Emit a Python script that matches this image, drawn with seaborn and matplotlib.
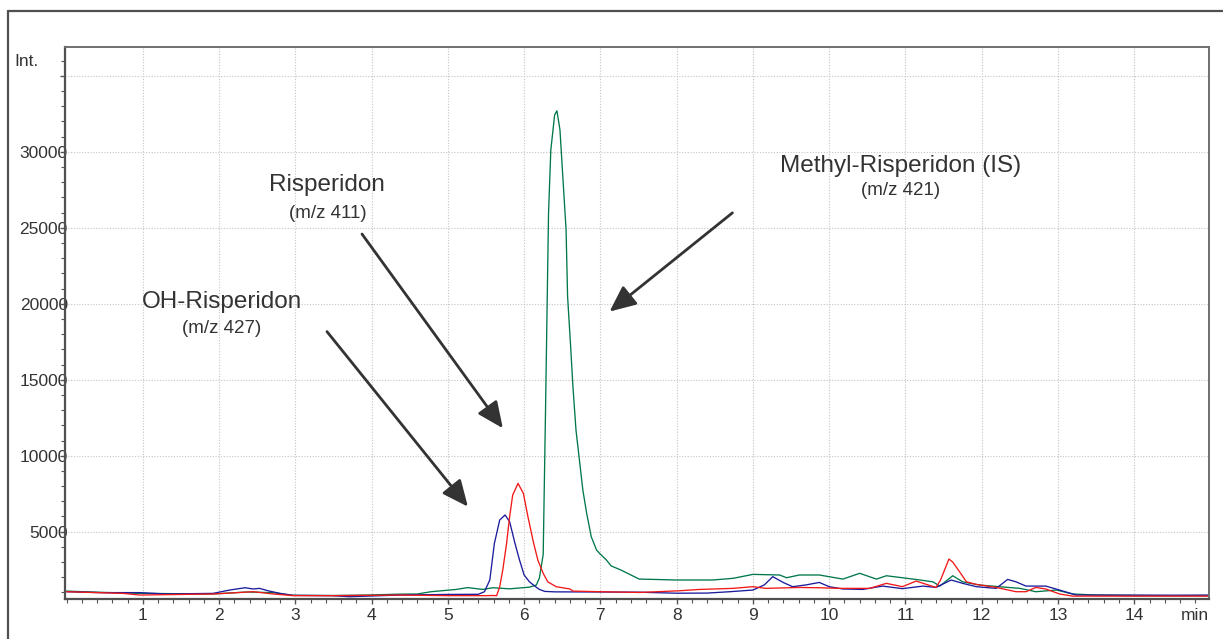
import numpy as np
import pandas as pd
import matplotlib
matplotlib.use("Agg")
import matplotlib.pyplot as plt
from matplotlib.lines import Line2D
from matplotlib.ticker import MultipleLocator, FixedLocator
import seaborn as sns

# ---------------- data ----------------
t_oh = [0.0, 0.44, 0.96, 1.31, 1.92, 2.14, 2.34, 2.45, 2.53, 2.66, 2.80, 2.97, 3.49, 3.71,
        4.37, 5.0, 5.40, 5.48, 5.55, 5.61, 5.68, 5.75, 5.81, 5.88, 5.94, 6.00, 6.07, 6.14,
        6.20, 6.27, 6.40, 7.0, 7.5, 8.0, 8.4, 8.7, 9.0, 9.15, 9.26, 9.40, 9.52, 9.70, 9.87,
        10.0, 10.18, 10.44, 10.70, 10.96, 11.23, 11.40, 11.60, 11.75, 11.93, 12.19, 12.34,
        12.45, 12.58, 12.84, 13.02, 13.24, 13.6, 14.0, 14.5, 14.98]
i_oh = [1050, 990, 990, 900, 940, 1160, 1310, 1230, 1270, 1090, 940, 810, 790, 720,
        830, 870, 880, 1050, 1820, 4230, 5770, 6100, 5660, 4230, 3130, 2150, 1700, 1420,
        1200, 1070, 1040, 1030, 1020, 950, 960, 1050, 1160, 1500, 2040, 1650, 1380, 1500, 1660,
        1380, 1230, 1200, 1420, 1250, 1420, 1330, 1820, 1600, 1380, 1270, 1860,
        1700, 1420, 1420, 1160, 830, 830, 830, 820, 830]

t_me = [0.0, 0.5, 0.96, 1.92, 2.36, 2.7, 2.97, 3.5, 3.93, 4.37, 4.6, 4.78, 5.11, 5.26, 5.46,
        5.59, 5.81, 6.07, 6.16, 6.20, 6.25, 6.28, 6.30, 6.32, 6.35, 6.40, 6.43, 6.47, 6.51,
        6.55, 6.57, 6.61, 6.64, 6.68, 6.73, 6.77, 6.82, 6.88, 6.95, 6.99, 7.08, 7.14, 7.27,
        7.38, 7.51, 7.69, 7.99, 8.47, 8.74, 9.0, 9.35, 9.44, 9.61, 9.87, 10.18, 10.40, 10.62,
        10.75, 11.10, 11.19, 11.36, 11.45, 11.62, 11.75, 11.97, 12.23, 12.50, 12.71, 12.98,
        13.19, 13.50, 14.0, 14.5, 14.98]
i_me = [1090, 1000, 940, 900, 1030, 990, 810, 800, 830, 890, 900, 1050, 1200, 1320, 1200,
        1310, 1240, 1350, 1490, 1950, 3500, 12790, 19370, 25960, 30120, 32430, 32700, 31440, 28150,
        24860, 20470, 17180, 14540, 11690, 9500, 7740, 6210, 4670, 3790, 3570, 3130, 2750, 2475,
        2200, 1880, 1860, 1820, 1820, 1930, 2190, 2150, 1970, 2150, 2150, 1880, 2260, 1880,
        2100, 1880, 1820, 1700, 1420, 2100, 1700, 1490, 1380, 1270, 1050, 1160,
        900, 830, 790, 790, 790]

t_ri = [0.0, 0.74, 0.96, 1.92, 2.45, 2.71, 2.97, 3.5, 4.37, 5.0, 5.5, 5.59, 5.64, 5.68, 5.72,
        5.77, 5.81, 5.85, 5.92, 5.99, 6.05, 6.12, 6.18, 6.25, 6.31, 6.42, 6.60, 6.64, 6.99,
        7.51, 8.03, 8.30, 8.74, 9.0, 9.17, 9.61, 9.87, 10.14, 10.53, 10.75, 10.96, 11.14, 11.40,
        11.46, 11.57, 11.62, 11.71, 11.80, 11.93, 12.19, 12.45, 12.58, 12.71, 12.84, 13.02,
        13.19, 14.0, 14.98]
i_ri = [1050, 940, 830, 900, 1050, 900, 790, 790, 830, 790, 790, 800, 790, 1380, 2480,
        4230, 5990, 7410, 8180, 7520, 5990, 4340, 3130, 2260, 1700, 1380, 1230, 1090, 1050,
        1000, 1110, 1200, 1270, 1380, 1270, 1330, 1310, 1270, 1270, 1600, 1380, 1750, 1330,
        1820, 3200, 3000, 2360, 1700, 1530, 1330, 1050, 1050, 1330, 1230, 900,
        760, 760, 760]

series_names = ["Methyl-Risperidon (IS)", "OH-Risperidon", "Risperidon"]
series_colors = ["#00784a", "#1c1c9c", "#f21818"]

x_ticks = list(range(1, 15))
y_ticks = [5000, 10000, 15000, 20000, 25000, 30000, 35000]
y_tick_labels = ["5000", "10000", "15000", "20000", "25000", "30000", ""]

labels = [("Risperidon", "(m/z 411)", 3.42, 27390, 25650, 3.874, 24590, 5.721, 11808),
          ("OH-Risperidon", "(m/z 427)", 2.035, 19710, 18080, 3.415, 18168, 5.263, 6646),
          ("Methyl-Risperidon (IS)", "(m/z 421)", 10.935, 28700, 27170, 8.731, 25984, 7.120, 19485)]

df = pd.concat([
    pd.DataFrame({"t": t_me, "i": i_me, "s": series_names[0]}),
    pd.DataFrame({"t": t_oh, "i": i_oh, "s": series_names[1]}),
    pd.DataFrame({"t": t_ri, "i": i_ri, "s": series_names[2]}),
], ignore_index=True)

# ---------------- figure ----------------
sns.set_theme(style="white")
plt.rcParams["font.family"] = ["Liberation Sans", "DejaVu Sans"]

W, H = 1223, 639
fig = plt.figure(figsize=(W / 100, H / 100), dpi=100)
fig.patch.set_facecolor("white")
L, R, T, B = 65, 1209, 47, 599
ax = fig.add_axes([L / W, 1 - B / H, (R - L) / W, (B - T) / H])

sns.lineplot(data=df, x="t", y="i", hue="s", hue_order=series_names,
             palette=dict(zip(series_names, series_colors)), linewidth=0.95,
             legend=False, sort=False, estimator=None, ax=ax)

ax.set_xlim(-0.02, 14.98)
ax.set_ylim(570, 36900)
ax.set_xlabel("")
ax.set_ylabel("")

ax.xaxis.set_major_locator(FixedLocator(x_ticks))
ax.set_xticklabels([str(v) for v in x_ticks])
ax.xaxis.set_minor_locator(MultipleLocator(0.2))
ax.yaxis.set_major_locator(FixedLocator(y_ticks))
ax.set_yticklabels(y_tick_labels)
ax.yaxis.set_minor_locator(MultipleLocator(1000))

ax.tick_params(axis="x", which="major", direction="out", length=3.8, width=1.0,
               color="#555555", labelsize=12.5, labelcolor="#333333", pad=3, bottom=True)
ax.tick_params(axis="x", which="minor", direction="out", length=3.0, width=0.8,
               color="#555555", bottom=True)
ax.tick_params(axis="y", which="major", direction="out", length=3.8, width=1.0,
               color="#555555", labelsize=12.5, labelcolor="#333333", pad=-5.8, left=True)
ax.tick_params(axis="y", which="minor", direction="out", length=2.6, width=0.8,
               color="#555555", left=True)

ax.grid(True, which="major", linestyle=(0, (1, 1.5)), color="#c9c3c3", linewidth=0.8)
ax.set_axisbelow(True)

for side in ["left", "bottom"]:
    ax.spines[side].set_color("#505050")
    ax.spines[side].set_linewidth(1.6)
for side in ["top", "right"]:
    ax.spines[side].set_color("#707070")
    ax.spines[side].set_linewidth(1.4)
    ax.spines[side].set_visible(True)

# annotations
for big, small, xc, yb1, yb2, xs, ys, xe, ye in labels:
    ax.text(xc, yb1, big, ha="center", va="baseline", fontsize=17.5, color="#333333")
    ax.text(xc, yb2, small, ha="center", va="baseline", fontsize=13.5, color="#333333")
    ax.annotate("", xy=(xe, ye), xytext=(xs, ys),
                arrowprops=dict(arrowstyle="-|>,head_length=0.8,head_width=0.36",
                                mutation_scale=20, lw=2.0, color="#333333",
                                shrinkA=0, shrinkB=0))

fig.text(14 / W, 1 - 62 / H, "Int.", ha="left", va="center", fontsize=12.5, color="#333333")
ax.text(14.98, -0.0165, "min", transform=ax.get_xaxis_transform(), ha="right", va="top",
        fontsize=12.5, color="#333333")

# outer frame
fig.add_artist(Line2D([8 / W, 8 / W], [0, 1 - 11 / H], transform=fig.transFigure,
                      color="#505050", lw=1.6))
fig.add_artist(Line2D([8 / W, 1.0], [1 - 11 / H, 1 - 11 / H], transform=fig.transFigure,
                      color="#505050", lw=1.6))

fig.savefig("out.png", dpi=100, facecolor="white")
